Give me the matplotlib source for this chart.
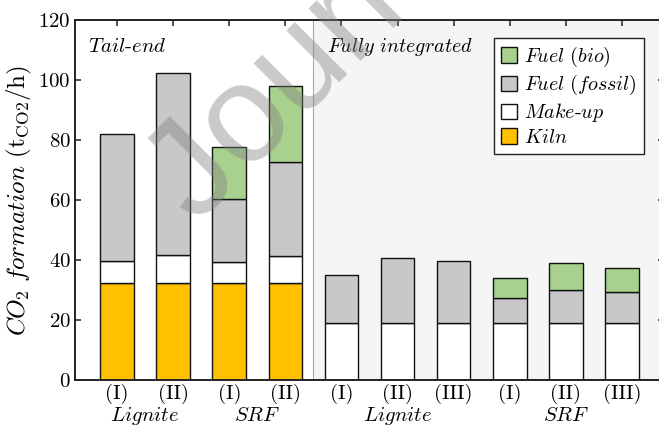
import matplotlib
matplotlib.use("Agg")
import matplotlib.pyplot as plt
import numpy as np

# CO2 formation per case (t_CO2/h)
cases = ["(I)", "(II)", "(I)", "(II)", "(I)", "(II)", "(III)", "(I)", "(II)", "(III)"]
kiln = [32.2, 32.2, 32.2, 32.2, 0, 0, 0, 0, 0, 0]
makeup = [7.6, 9.5, 7.0, 9.0, 19.1, 19.1, 19.1, 19.1, 19.1, 19.1]
fossil = [42.2, 60.6, 21.0, 31.4, 16.0, 21.6, 20.7, 8.1, 10.9, 10.1]
bio = [0, 0, 17.4, 25.5, 0, 0, 0, 6.7, 9.0, 8.1]
groups = ["Lignite", "SRF", "Lignite", "SRF"]
group_pos = [0.5, 2.5, 5, 8]

plt.rcParams["font.family"] = "serif"
plt.rcParams["font.serif"] = ["cmr10"]
plt.rcParams["mathtext.fontset"] = "cm"
plt.rcParams["axes.formatter.use_mathtext"] = True

fig = plt.figure(figsize=(6.59, 4.30), dpi=100)
ax = fig.add_axes([75/659, 50/430, 589/659, 360/430])

x = np.arange(len(cases))
w = 0.6
kiln = np.array(kiln)
makeup = np.array(makeup)
fossil = np.array(fossil)
bio = np.array(bio)

# fully integrated region
ax.axvspan(3.5, 10, color="#f5f5f5", zorder=0, lw=0)
ax.axvline(3.5, color="#aaaaaa", lw=0.8, zorder=1)

ec = "#111111"
ax.bar(x, kiln, w, color="#ffc000", edgecolor=ec, lw=1.0, zorder=2, label=r"$\mathit{Kiln}$")
ax.bar(x, makeup, w, bottom=kiln, color="white", edgecolor=ec, lw=1.0, zorder=2,
       label=r"$\mathit{Make}$-$\mathit{up}$")
ax.bar(x, fossil, w, bottom=kiln + makeup, color="#c8c8c8", edgecolor=ec, lw=1.0, zorder=2,
       label=r"$\mathit{Fuel\ (fossil)}$")
m = bio > 0
ax.bar(x[m], bio[m], w, bottom=(kiln + makeup + fossil)[m], color="#a9d18e", edgecolor=ec,
       lw=1.0, zorder=2, label=r"$\mathit{Fuel\ (bio)}$")

ax.set_xlim(-0.75, 9.75)
ax.set_ylim(0, 120)
ax.set_yticks(np.arange(0, 121, 20))
ax.set_xticks(x)
ax.set_xticklabels(cases, fontsize=15)
ax.tick_params(axis="y", labelsize=15)
ax.tick_params(direction="in", top=True, right=True, length=4.3, width=1.1, color="#222222", pad=3)
for s in ax.spines.values():
    s.set_linewidth(1.4)
    s.set_color("#222222")

ax.set_ylabel(r"$CO_2\ formation$ $(\mathrm{t}_{\mathrm{CO2}}/\mathrm{h})$", fontsize=18, labelpad=3)

for g, p in zip(groups, group_pos):
    ax.text(p, -0.1, r"$\mathit{%s}$" % g, transform=ax.get_xaxis_transform(),
            ha="center", va="center", fontsize=15)

ax.text(0.022, 0.925, r"$\mathit{Tail}$-$\mathit{end}$", transform=ax.transAxes, fontsize=15,
        ha="left", va="center")
ax.text(0.427, 0.925, r"$\mathit{Fully\ integrated}$", transform=ax.transAxes, fontsize=14.5,
        ha="left", va="center")

h, l = ax.get_legend_handles_labels()
leg = ax.legend(h[::-1], l[::-1], loc="upper right", bbox_to_anchor=(644/659, 1 - 38/430),
                bbox_transform=fig.transFigure, fontsize=14.5, fancybox=False, framealpha=1,
                edgecolor="#222222", handlelength=0.8, handleheight=0.8, handletextpad=0.35,
                labelspacing=0.2, borderpad=0.35, borderaxespad=0)
leg.get_frame().set_linewidth(1.0)

# watermark
fig.text(196/659, 1 - 225/430, "Journal Pre-proof", fontsize=100, rotation=45,
         rotation_mode="anchor", ha="left", va="baseline", color="#808080", alpha=0.42,
         family="Liberation Sans", zorder=10)

fig.savefig("out.png", dpi=100)
